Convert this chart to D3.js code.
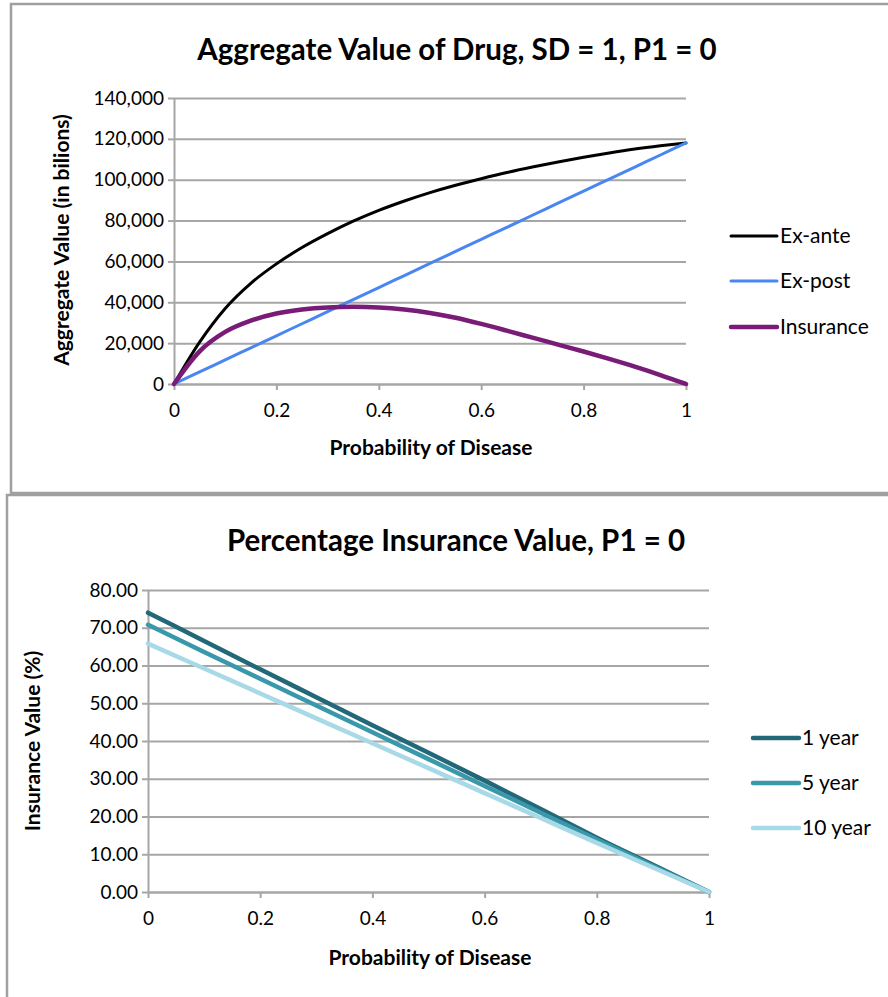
<!DOCTYPE html>
<html>
<head>
<meta charset="utf-8">
<script src="https://cdn.jsdelivr.net/npm/d3@7"></script>
<style>
  body { margin: 0; background: #fff; }
  svg { display: block; }
  text { font-family: Lato, "Open Sans", sans-serif; fill: #000; }
</style>
</head>
<body>
<svg id="chart" width="888" height="997"></svg>
<script>
// ---- Aggregate value of the drug (in billions) by probability of disease ----
const probability = [0, 0.05, 0.1, 0.15, 0.2, 0.25, 0.3, 0.35, 0.4, 0.45, 0.5,
                     0.55, 0.6, 0.65, 0.7, 0.75, 0.8, 0.85, 0.9, 0.95, 1];
const exAnte = [0, 20500, 37000, 49300, 58800, 66800, 73600, 79700, 85000, 89600, 93700,
                97300, 100500, 103500, 106200, 108700, 111000, 113100, 115000, 116600, 118000];
const exPost = [0, 5900, 11800, 17700, 23600, 29500, 35400, 41300, 47200, 53100, 59000,
                64900, 70800, 76700, 82600, 88500, 94400, 100300, 106200, 112100, 118000];
const insurance = [0, 16000, 25500, 31000, 34500, 36500, 37500, 37800, 37500, 36500, 34800,
                   32400, 29400, 26100, 22700, 19300, 15900, 12300, 8500, 4400, 0];
const aggTicks = [0, 20000, 40000, 60000, 80000, 100000, 120000, 140000];
const probTicks = [0, 0.2, 0.4, 0.6, 0.8, 1];

// ---- Percentage insurance value by horizon ----
const horizonProb = [0, 0.1, 0.2, 0.3, 0.4, 0.5, 0.6, 0.7, 0.8, 0.9, 1];
const oneYear  = [74.0, 66.5, 59.0, 51.6, 44.2, 36.9, 29.5, 22.0, 14.4, 7.2, 0];
const fiveYear = [70.8, 63.6, 56.5, 49.4, 42.3, 35.2, 28.1, 21.0, 13.9, 6.9, 0];
const tenYear  = [65.8, 59.2, 52.6, 46.0, 39.4, 32.8, 26.2, 19.6, 13.0, 6.5, 0];
const pctTicks = [0, 10, 20, 30, 40, 50, 60, 70, 80];

const svg = d3.select("#chart");
svg.append("rect").attr("width", 888).attr("height", 997).attr("fill", "#fff");

// chart frames
svg.append("rect").attr("x", 11).attr("y", 4).attr("width", 900).attr("height", 489)
  .attr("fill", "none").attr("stroke", "#a0a0a0").attr("stroke-width", 2.5);
svg.append("rect").attr("x", 7).attr("y", 495).attr("width", 900).attr("height", 600)
  .attr("fill", "none").attr("stroke", "#a0a0a0").attr("stroke-width", 2.5);

const gridColor = "#a6a6a6";

function drawPanel(cfg) {
  const x = d3.scaleLinear().domain([0, 1]).range([cfg.left, cfg.right]);
  const y = d3.scaleLinear().domain(cfg.yDomain).range([cfg.bottom, cfg.top]);
  const g = svg.append("g");

  // horizontal gridlines
  g.append("g")
    .attr("transform", `translate(${cfg.left},0)`)
    .call(d3.axisLeft(y).tickValues(cfg.yTicks).tickSize(-(cfg.right - cfg.left)).tickFormat(""))
    .call(s => s.select(".domain").remove())
    .call(s => s.selectAll("line").attr("stroke", gridColor).attr("stroke-width", 2));

  // y axis with ticks and labels
  g.append("g")
    .attr("transform", `translate(${cfg.left},0)`)
    .call(d3.axisLeft(y).tickValues(cfg.yTicks).tickSize(6).tickSizeOuter(0).tickPadding(4).tickFormat(cfg.yFormat))
    .call(s => s.select(".domain").attr("stroke", gridColor).attr("stroke-width", 2))
    .call(s => s.selectAll("line").attr("stroke", gridColor).attr("stroke-width", 2))
    .call(s => s.selectAll("text").attr("font-size", 19).attr("font-family", "Lato").attr("fill", "#000"));

  // x axis
  g.append("g")
    .attr("transform", `translate(0,${cfg.bottom})`)
    .call(d3.axisBottom(x).tickValues(probTicks).tickSize(6).tickSizeOuter(0).tickPadding(14).tickFormat(d3.format("")))
    .call(s => s.select(".domain").attr("stroke", gridColor).attr("stroke-width", 2))
    .call(s => s.selectAll("line").attr("stroke", gridColor).attr("stroke-width", 2))
    .call(s => s.selectAll("text").attr("font-size", 19).attr("font-family", "Lato").attr("fill", "#000"));

  // series
  const line = d3.line().x(d => x(d[0])).y(d => y(d[1])).curve(d3.curveMonotoneX);
  cfg.series.forEach(sr => {
    g.append("path")
      .datum(cfg.xs.map((p, i) => [p, sr.values[i]]))
      .attr("d", line)
      .attr("fill", "none")
      .attr("stroke", sr.color)
      .attr("stroke-width", sr.width)
      .attr("stroke-linejoin", "round")
      .attr("stroke-linecap", "round");
  });

  // legend
  cfg.series.forEach((sr, i) => {
    const ly = cfg.legendY[i];
    g.append("line")
      .attr("x1", cfg.legendX).attr("x2", cfg.legendX + 46)
      .attr("y1", ly).attr("y2", ly)
      .attr("stroke", sr.color).attr("stroke-width", sr.width)
      .attr("stroke-linecap", "round");
    g.append("text")
      .attr("x", cfg.legendX + 49).attr("y", ly)
      .attr("dy", "0.35em")
      .attr("font-size", 21)
      .text(sr.name);
  });

  // titles
  g.append("text")
    .attr("x", cfg.titleX).attr("y", cfg.titleY).attr("dy", "0.35em")
    .attr("text-anchor", "middle").attr("font-size", 29.5).attr("font-weight", 700)
    .text(cfg.title);
  g.append("text")
    .attr("x", cfg.xTitleX).attr("y", cfg.xTitleY).attr("dy", "0.35em")
    .attr("text-anchor", "middle").attr("font-size", 21).attr("font-weight", 700)
    .text("Probability of Disease");
  g.append("text")
    .attr("transform", `translate(${cfg.yTitleX},${cfg.yTitleY}) rotate(-90)`)
    .attr("dy", "0.35em")
    .attr("text-anchor", "middle").attr("font-size", 21).attr("font-weight", 700)
    .text(cfg.yTitle);
}

drawPanel({
  left: 174, right: 686, top: 98, bottom: 384,
  yDomain: [0, 140000], yTicks: aggTicks, yFormat: d3.format(","),
  xs: probability,
  series: [
    { name: "Ex-ante",   values: exAnte,    color: "#000000", width: 3 },
    { name: "Ex-post",   values: exPost,    color: "#4a86f2", width: 3 },
    { name: "Insurance", values: insurance, color: "#781c78", width: 4.5 }
  ],
  legendX: 731, legendY: [236, 281, 327],
  title: "Aggregate Value of Drug, SD = 1, P1 = 0", titleX: 457, titleY: 50,
  xTitleX: 431, xTitleY: 448,
  yTitle: "Aggregate Value (in bilions)", yTitleX: 62, yTitleY: 240
});

drawPanel({
  left: 148, right: 709, top: 590, bottom: 892,
  yDomain: [0, 80], yTicks: pctTicks, yFormat: d3.format(".2f"),
  xs: horizonProb,
  series: [
    { name: "1 year",  values: oneYear,  color: "#236878", width: 4.5 },
    { name: "5 year",  values: fiveYear, color: "#3a98ab", width: 4.5 },
    { name: "10 year", values: tenYear,  color: "#a7d9e6", width: 4.5 }
  ],
  legendX: 753, legendY: [738, 783, 828],
  title: "Percentage Insurance Value, P1 = 0", titleX: 456, titleY: 541,
  xTitleX: 430, xTitleY: 958,
  yTitle: "Insurance Value (%)", yTitleX: 33, yTitleY: 741
});
</script>
</body>
</html>
